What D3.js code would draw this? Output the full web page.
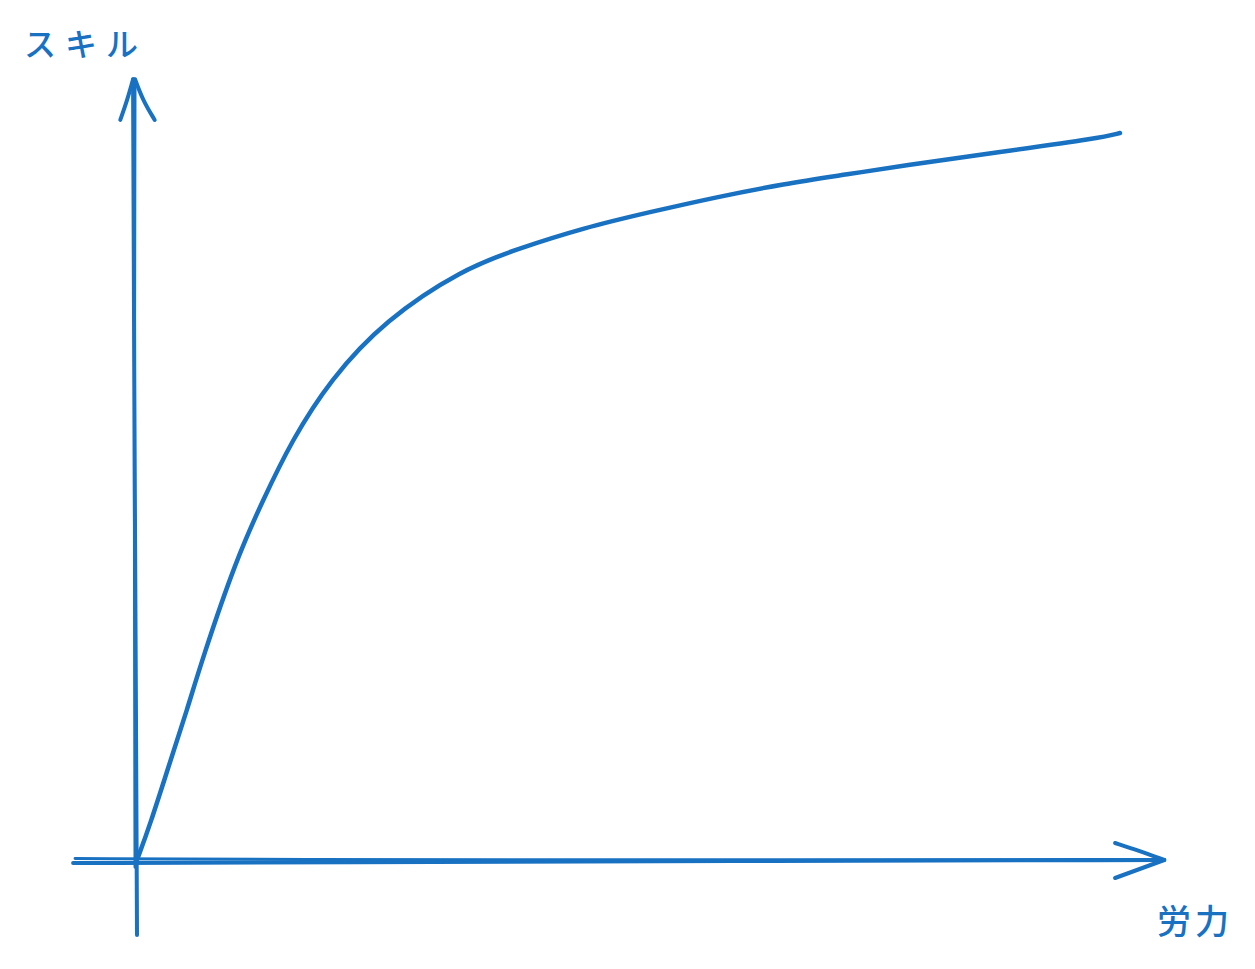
<!DOCTYPE html>
<html><head><meta charset="utf-8">
<script src="https://cdn.jsdelivr.net/npm/d3@7"></script>
<style>body{margin:0;background:#fff}svg{display:block}</style>
</head><body>
<svg id="c" width="1255" height="969"></svg>
<script>
const effort = [0, 1.32, 3.36, 5.09, 6.61, 10.07, 12.82, 15.77, 19.63, 25.23, 33.16, 38.66, 45.37, 52.19, 59.0, 65.72, 72.53, 77.62, 87.79, 97.97, 100];
const skill  = [0, 4.8, 13.5, 20.63, 27.51, 41.27, 49.52, 57.77, 66.02, 74.28, 81.29, 84.04, 86.93, 89.13, 91.2, 92.98, 94.36, 95.46, 97.39, 99.31, 100];
const xLabel = "労力";
const yLabel = "スキル";

const color = "#1971c2";
const svg = d3.select("#c");
const x = d3.scaleLinear().domain([0, 100]).range([137, 1120]);
const y = d3.scaleLinear().domain([0, 100]).range([860, 133]);

// axes (hand-drawn style)
const g = svg.append("g").attr("fill", "none").attr("stroke", color).attr("stroke-linecap", "round").attr("stroke-linejoin", "round");
const ln = d3.line().curve(d3.curveBasis);
// x axis
g.append("path").attr("stroke-width", 4).attr("d", ln([[x(-6.5), y(0) + 3], [x(20), y(0) + 2.5], [x(60), y(0) + 1], [x(104.5), y(0)]]));
g.append("path").attr("stroke-width", 3).attr("d", ln([[x(-6.3), y(0) - 1.5], [x(15), y(0) - 0.5], [x(50), y(0)], [x(104.5), y(0) - 0.5]]));
// x arrowhead
g.append("path").attr("stroke-width", 4).attr("d", ln([[x(99.5), y(0) + 18], [x(102), y(0) + 9], [x(104.5), y(0)]]));
g.append("path").attr("stroke-width", 4).attr("d", ln([[x(99.5), y(0) - 17], [x(102), y(0) - 9], [x(104.5), y(0)]]));
// y axis
g.append("path").attr("stroke-width", 4).attr("d", ln([[x(0), y(-10.3)], [x(-0.1), y(20)], [x(-0.3), y(70)], [x(-0.4), y(107.4)]]));
g.append("path").attr("stroke-width", 3).attr("d", ln([[x(-0.2), y(-1)], [x(-0.3), y(50)], [x(-0.2), y(107.4)]]));
// y arrowhead
g.append("path").attr("stroke-width", 4).attr("d", ln([[x(-1.7), y(101.8)], [x(-1), y(104.5)], [x(-0.4), y(107.4)]]));
g.append("path").attr("stroke-width", 4).attr("d", ln([[x(1.8), y(101.8)], [x(0.6), y(104.5)], [x(-0.2), y(107.4)]]));

// curve
const pts = effort.map((e, i) => [x(e), y(skill[i])]);
svg.append("path").attr("fill", "none").attr("stroke", color).attr("stroke-width", 4.5)
  .attr("stroke-linecap", "round")
  .attr("d", d3.line().curve(d3.curveBasis)(pts));

// labels
svg.append("text").attr("x", 24).attr("y", 56).attr("fill", color)
  .style("font-family", "'Noto Sans CJK JP'").style("font-weight", "500").style("font-size", "32px").style("letter-spacing", "9px")
  .text(yLabel);
svg.append("text").attr("x", 1157).attr("y", 934).attr("fill", color)
  .style("font-family", "'Noto Sans CJK JP'").style("font-weight", "500").style("font-size", "34px").style("letter-spacing", "4px")
  .text(xLabel);
</script>
</body></html>
